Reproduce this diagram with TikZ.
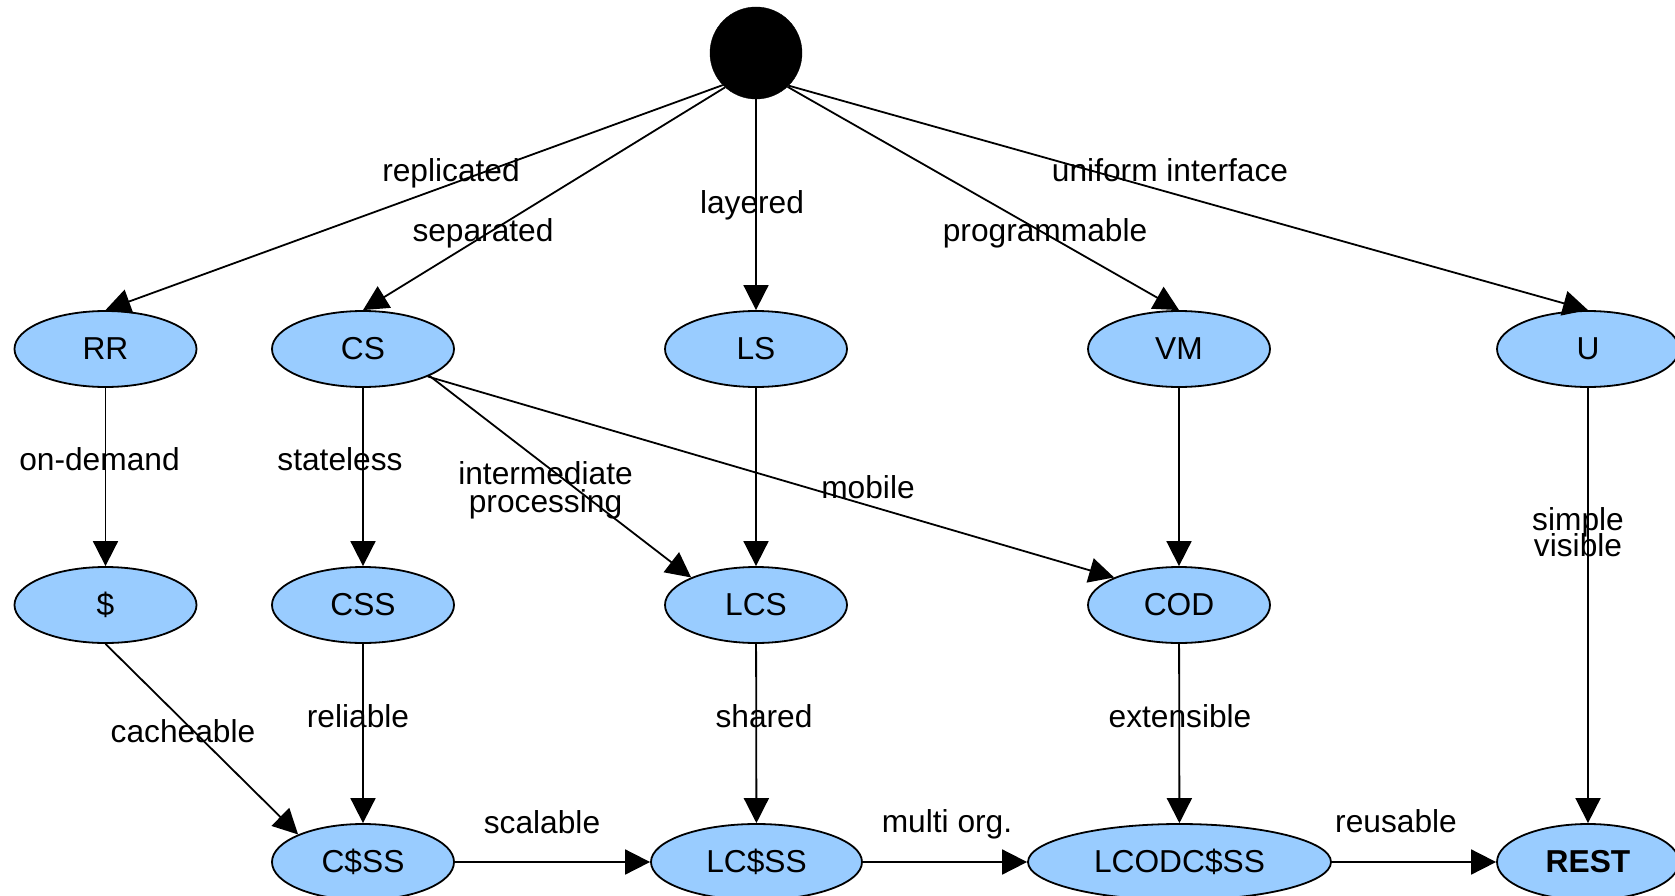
\documentclass[tikz,border=0pt]{standalone}
\usepackage{fontspec}
\setmainfont{Liberation Sans}
\usetikzlibrary{arrows.meta,shapes.geometric}
\definecolor{nodeblue}{RGB}{153,204,255}
\newcommand{\twolines}[3]{\vtop{\baselineskip=#1\lineskiplimit=-100pt\lineskip=0pt
  \halign{\hfil##\hfil\cr #2\cr #3\cr}}}
\begin{document}
\begin{tikzpicture}[x=1pt,y=-1pt,
  state/.style={ellipse, draw=black, line width=1.8pt, fill=nodeblue,
    minimum width=182pt, minimum height=76pt, inner sep=0pt,
    font=\fontsize{31.7}{27}\selectfont},
  lbl/.style={inner sep=0pt, anchor=base, font=\fontsize{31.7}{27}\selectfont},
  conn/.style={line width=1.8pt, -{Triangle[length=25pt,width=25pt]}}]
\useasboundingbox (0,0) rectangle (1675,896);
% nodes
\node[circle, fill=black, draw=black, minimum size=92pt, inner sep=0pt] (top) at (756,53) {};
\node[state] (rr) at (105.5,349) {RR};
\node[state] (cs) at (363,349) {CS};
\node[state] (ls) at (756,349) {LS};
\node[state] (vm) at (1179,349) {VM};
\node[state] (u) at (1588,349) {U};
\node[state] (cache) at (105.5,605) {\$};
\node[state] (css) at (363,605) {CSS};
\node[state] (lcs) at (756,605) {LCS};
\node[state] (cod) at (1179,605) {COD};
\node[state] (ccss) at (363,862) {C\$SS};
\node[state, minimum width=211pt] (lccss) at (756.5,862) {LC\$SS};
\node[state, minimum width=303pt] (lcodccss) at (1179.5,862) {LCODC\$SS};
\node[state, font=\fontsize{31.7}{27}\selectfont\bfseries] (rest) at (1588,862) {REST};
% connectors
\draw[conn] (top.224) -- (rr.north);
\draw[conn] (top.228) -- (cs.north);
\draw[conn] (top) -- (ls.north);
\draw[conn] (top.-47) -- (vm.north);
\draw[conn] (top.-45) -- (u.north);
\draw[conn] (rr) -- (cache);
\draw[conn] (cs) -- (css);
\draw[conn] (cs.-22) -- (lcs.157);
\draw[conn] (cs.-23) -- (cod.157);
\draw[conn] (ls) -- (lcs);
\draw[conn] (vm) -- (cod);
\draw[conn] (u) -- (rest);
\draw[conn] (cache.south) -- (ccss.157);
\draw[conn] (css) -- (ccss);
\draw[conn] (lcs) -- (lccss);
\draw[conn] (cod) -- (lcodccss);
\draw[conn] (ccss) -- (lccss);
\draw[conn] (lccss) -- (lcodccss);
\draw[conn] (lcodccss) -- (rest);
% labels
\node[lbl] (lrep) at (451,182) {replicated};
\node[lbl] (lsep) at (483,241) {separated};
\node[lbl] (llay) at (752,213) {layered};
\node[lbl] (lprog) at (1045,241) {programmable};
\node[lbl] (lunif) at (1170,182) {uniform interface};
\node[lbl] (lond) at (99.5,470) {on-demand};
\node[lbl] (lstat) at (340,470) {stateless};
\node[lbl] (lint) at (545.5,484) {\twolines{28pt}{intermediate}{processing}};
\node[lbl] (lmob) at (868,498) {mobile};
\node[lbl] (lsim) at (1578,530) {\twolines{26pt}{simple}{visible}};
\node[lbl] (lcach) at (183,742) {cacheable};
\node[lbl] (lrel) at (358,727) {reliable};
\node[lbl] (lsha) at (764,727) {shared};
\node[lbl] (lext) at (1180,727) {extensible};
\node[lbl] (lsca) at (542,833) {scalable};
\node[lbl] (lmul) at (947,832) {multi org.};
\node[lbl] (lreu) at (1396,832) {reusable};
\end{tikzpicture}
\end{document}
